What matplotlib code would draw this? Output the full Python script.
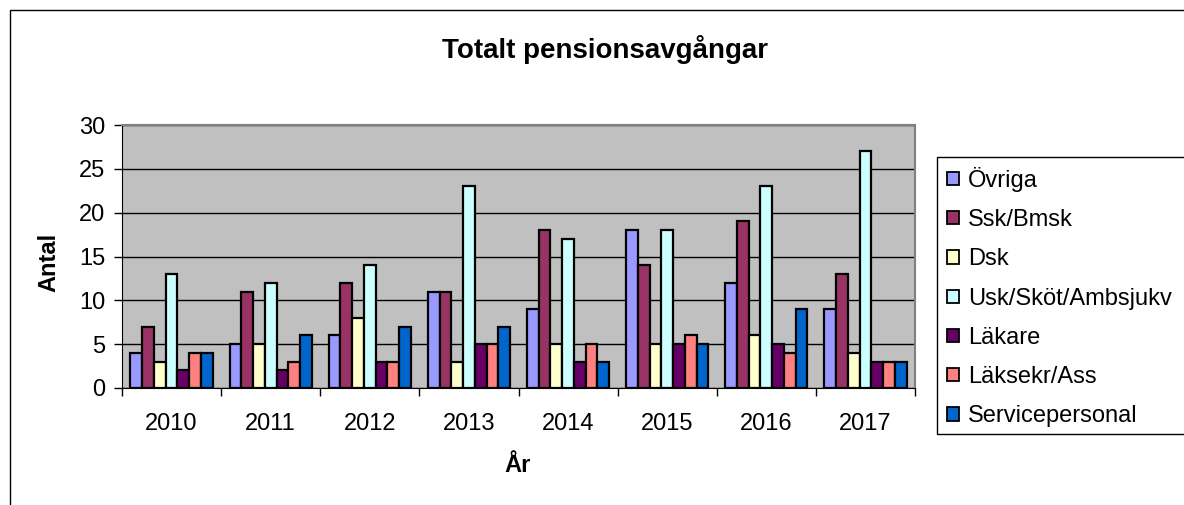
import matplotlib
matplotlib.use("Agg")
import matplotlib.pyplot as plt
import numpy as np
from matplotlib.patches import Rectangle

plt.rcParams['font.family'] = ['Liberation Sans', 'DejaVu Sans']

years = ['2010', '2011', '2012', '2013', '2014', '2015', '2016', '2017']
series_names = ['Övriga', 'Ssk/Bmsk', 'Dsk', 'Usk/Sköt/Ambsjukv', 'Läkare', 'Läksekr/Ass', 'Servicepersonal']
ovriga = [4, 5, 6, 11, 9, 18, 12, 9]
ssk = [7, 11, 12, 11, 18, 14, 19, 13]
dsk = [3, 5, 8, 3, 5, 5, 6, 4]
usk = [13, 12, 14, 23, 17, 18, 23, 27]
lakare = [2, 2, 3, 5, 3, 5, 5, 3]
laksekr = [4, 3, 3, 5, 5, 6, 4, 3]
service = [4, 6, 7, 7, 3, 5, 9, 3]
colors = ['#9999FF', '#993366', '#FFFFCC', '#CCFFFF', '#660066', '#FF8080', '#0066CC']

all_series = [ovriga, ssk, dsk, usk, lakare, laksekr, service]

W, H = 1184, 505
fig = plt.figure(figsize=(W/100, H/100), dpi=100)
fig.patch.set_facecolor('white')

# outer chart border
fig.patches.append(Rectangle((10/W, -0.1), 1.2, 1 - 10/H + 0.1, transform=fig.transFigure,
                             fill=False, edgecolor='black', linewidth=1.0))
# legend border (extends beyond the right edge)
fig.patches.append(Rectangle((937/W, 1 - 434/H), 1.0, (434 - 157)/H, transform=fig.transFigure,
                             fill=True, facecolor='white', edgecolor='black', linewidth=1.0))

left, right, top, bottom = 122, 915, 125, 388
ax = fig.add_axes([left/W, 1 - bottom/H, (right-left)/W, (bottom-top)/H])
ax.set_facecolor('#C0C0C0')

n = len(all_series)
x = np.arange(len(years))
group = 0.83
bw = group / n
for i, (s, c, name) in enumerate(zip(all_series, colors, series_names)):
    ax.bar(x - group/2 + bw*(i+0.5), s, width=bw, color=c, edgecolor='black',
           linewidth=1.6, label=name, zorder=3)

FS = 17
ax.set_xlim(-0.5, len(years)-0.5)
ax.set_ylim(0, 30)
ax.set_yticks(range(0, 31, 5))
ax.set_yticklabels([str(v) for v in range(0, 31, 5)], fontsize=FS)
ax.set_xticks(x)
ax.set_xticklabels(years, fontsize=FS)
ax.tick_params(axis='x', length=0, pad=18)
ax.set_xticks(np.arange(-0.5, len(years), 1), minor=True)
ax.tick_params(axis='x', which='minor', length=6, direction='out', width=1)
ax.tick_params(axis='y', length=6, direction='out', width=1, pad=6)
ax.yaxis.grid(True, color='black', linewidth=1)
ax.set_axisbelow(True)
for sp in ['top', 'right']:
    ax.spines[sp].set_color('#808080')
    ax.spines[sp].set_linewidth(1.5)
ax.spines['left'].set_color('black')
ax.spines['bottom'].set_color('black')

fig.text(49/W, 1 - 262/H, 'Antal', fontsize=FS, fontweight='bold', rotation=90,
         ha='center', va='center')
fig.text(518/W, 1 - 465/H, 'År', fontsize=FS, fontweight='bold', ha='center', va='center')
fig.text(605/W, 1 - 50/H, 'Totalt pensionsavgångar', fontsize=20, fontweight='bold',
         ha='center', va='center')

leg = fig.legend(loc='upper left', bbox_to_anchor=(937/W, 1 - 157/H), fontsize=FS,
                 frameon=False, handlelength=0.5,
                 handleheight=0.5, handletextpad=0.38, labelspacing=0.73,
                 borderpad=0.42, borderaxespad=0)
for h in leg.legend_handles:
    h.set_linewidth(1.3)

fig.savefig('out.png', dpi=100)
